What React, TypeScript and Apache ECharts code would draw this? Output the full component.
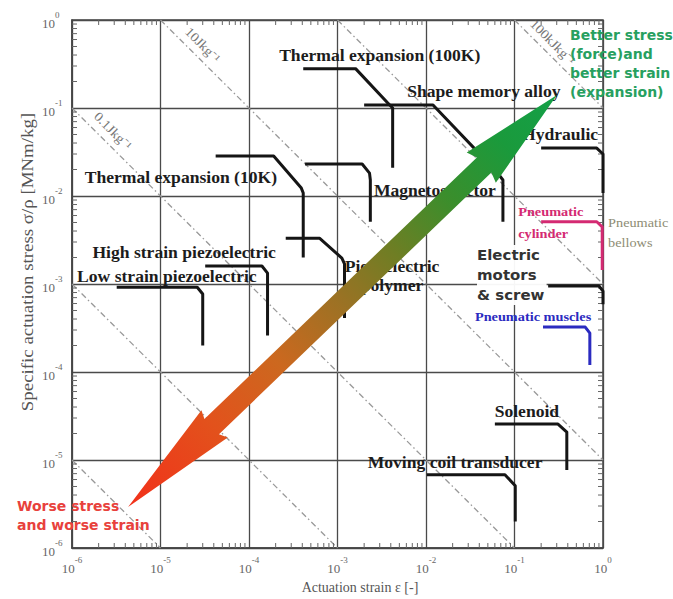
import React, { useEffect, useRef } from "react";
import * as echarts from "echarts";

// ---------- axes ----------
const xMin = 1e-6;
const xMax = 1;
const yMin = 1e-6;
const yMax = 1;
const xTitle = "Actuation strain ε [-]";
const yTitle = "Specific actuation stress σ/ρ [MNm/kg]";

// ---------- actuator envelopes: [strain, specific stress (MN m/kg)] ----------
const thermal100K = [[4.1e-4, 0.28], [1.6e-3, 0.28], [3.7e-3, 0.114], [4.2e-3, 0.1], [4.2e-3, 0.021]];
const shapeMemoryAlloy = [[2.0e-3, 0.108], [1.2e-2, 0.108], [6.3e-2, 0.0188], [7.4e-2, 0.0152], [7.4e-2, 5.1e-3]];
const thermal10K = [[4.2e-5, 0.0285], [1.9e-4, 0.0285], [3.9e-4, 0.0123], [4.1e-4, 0.0108], [4.1e-4, 2.0e-3]];
const magnetostrictor = [[4.3e-4, 0.0231], [1.9e-3, 0.0231], [2.3e-3, 0.0182], [2.35e-3, 0.0152], [2.35e-3, 5.1e-3]];
const piezoPolymer = [[2.6e-4, 3.3e-3], [6.3e-4, 3.3e-3], [1.12e-3, 1.97e-3], [1.2e-3, 1.69e-3], [1.2e-3, 4.1e-4]];
const highStrainPiezo = [[3.2e-5, 1.6e-3], [1.4e-4, 1.6e-3], [1.62e-4, 1.33e-3], [1.62e-4, 2.6e-4]];
const lowStrainPiezo = [[3.2e-6, 9.2e-4], [2.6e-5, 9.2e-4], [3.0e-5, 7.7e-4], [3.0e-5, 2.0e-4]];
const hydraulic = [[0.2, 0.035], [0.85, 0.035], [1, 0.03], [1, 0.0108]];
const pneumaticCylinder = [[0.2, 5.1e-3], [0.85, 5.1e-3], [0.98, 4.45e-3], [0.98, 1.44e-3]];
const pneumaticBellows = [[1.1, 1.87e-3], [2.4, 1.87e-3], [2.75, 1.6e-3], [2.75, 4.4e-4]];
const electricMotors = [[0.24, 9.5e-4], [0.9, 9.5e-4], [1, 8.3e-4], [1, 5.9e-4]];
const pneumaticMuscles = [[0.21, 3.24e-4], [0.63, 3.24e-4], [0.71, 2.77e-4], [0.71, 1.2e-4]];
const solenoid = [[0.06, 2.56e-5], [0.31, 2.56e-5], [0.39, 2.08e-5], [0.39, 7.7e-6]];
const movingCoil = [[0.0102, 6.8e-6], [0.078, 6.8e-6], [0.102, 5.1e-6], [0.102, 2.0e-6]];

// ---------- constant specific-work lines (end points) ----------
const workLines = [
  [[1e-1, 1], [1, 1e-1]],
  [[1e-3, 1], [1, 1e-3]],
  [[1e-5, 1], [1, 1e-5]],
  [[1e-6, 1e-1], [1e-1, 1e-6]],
  [[1e-6, 1e-3], [1e-3, 1e-6]],
  [[1e-6, 1e-5], [1e-5, 1e-6]],
];
const workLabelTexts = ["100kJkg⁻¹", "10Jkg⁻¹", "0.1Jkg⁻¹"];
const workLabelAt = [[0.27, 0.56], [3.0e-5, 0.52], [2.9e-6, 0.0548]];

// ---------- labels ----------
const mainLabelTexts = [
  "Thermal expansion (100K)",
  "Shape memory alloy",
  "Thermal expansion (10K)",
  "Magnetostrictor",
  "Hydraulic",
  "High strain piezoelectric",
  "Low strain piezoelectric",
  "Solenoid",
  "Moving coil transducer",
  "Piezoelectric\npolymer",
];
const mainLabelAt = [
  [3.0e-3, 0.39],
  [0.045, 0.152],
  [1.7e-5, 0.016],
  [0.0126, 0.0114],
  [0.327, 0.0493],
  [1.85e-5, 2.25e-3],
  [1.18e-5, 1.2e-3],
  [0.138, 3.5e-5],
  [0.0213, 9.2e-6],
  [4.13e-3, 1.22e-3],
];
const musclesLabel = "Pneumatic muscles";
const musclesLabelAt = [0.162, 4.2e-4];
const electricLabel = "Electric\nmotors\n& screw";
const electricLabelAt = [0.0377, 2.77e-3];
const cylinderLabel = "Pneumatic\ncylinder";
const cylinderLabelAt = [0.11, 8.77e-3];
const bellowsLabel = "Pneumatic\nbellows";
const bellowsLabelAt = [1.14, 6.41e-3];
const betterLabel = "Better stress\n(force)and\nbetter strain\n(expansion)";
const betterLabelAt = [0.424, 0.855];
const worseLabel = "Worse stress\nand worse strain";
const worseLabelAt = [2.39e-7, 3.85e-6];

// ---------- big arrow end points ----------
const arrowTail = [4.3e-6, 2.92e-6];
const arrowHead = [0.302, 0.1406];

const SERIF = '"Liberation Serif", "Times New Roman", serif';
const SANS = '"DejaVu Sans", Verdana, sans-serif';

export default function App() {
  const ref = useRef<HTMLDivElement>(null);

  useEffect(() => {
    if (!ref.current) return;
    const chart = echarts.init(ref.current, null, { renderer: "svg" });

    const minorVals: number[] = [];
    for (let e = -6; e < 0; e++) for (let m = 2; m <= 9; m++) minorVals.push(m * Math.pow(10, e));
    const minorData: number[][] = [];
    minorVals.forEach((v) => {
      minorData.push([v, yMin, 0], [v, yMax, 0], [xMin, v, 1], [xMax, v, 1]);
    });

    const tickLabel = (v: number) => {
      const e = Math.round(Math.log10(v));
      return `{b|10}{s|${e}}`;
    };
    const rich = {
      b: { fontFamily: SERIF, fontSize: 13, color: "#666", lineHeight: 20, verticalAlign: "bottom" },
      s: { fontFamily: SERIF, fontSize: 9, color: "#666", lineHeight: 10, verticalAlign: "top" },
    };

    const envelopes = [
      { d: thermal100K, c: "#151515", w: 3 },
      { d: shapeMemoryAlloy, c: "#151515", w: 3 },
      { d: thermal10K, c: "#151515", w: 3 },
      { d: magnetostrictor, c: "#151515", w: 3 },
      { d: piezoPolymer, c: "#151515", w: 3 },
      { d: highStrainPiezo, c: "#151515", w: 3 },
      { d: lowStrainPiezo, c: "#151515", w: 3 },
      { d: hydraulic, c: "#151515", w: 3 },
      { d: pneumaticCylinder, c: "#d42a72", w: 3 },
      { d: pneumaticBellows, c: "#8f8f88", w: 2 },
      { d: electricMotors, c: "#151515", w: 3 },
      { d: pneumaticMuscles, c: "#2b2bc0", w: 3 },
      { d: solenoid, c: "#151515", w: 3 },
      { d: movingCoil, c: "#151515", w: 3 },
    ];

    const series: any[] = [];
    workLines.forEach((pts) => {
      series.push({
        type: "line",
        data: pts,
        symbol: "none",
        silent: true,
        z: 3,
        lineStyle: { color: "#999", width: 1.3, type: [6, 3, 1.5, 3] },
      });
    });
    envelopes.forEach((e) => {
      series.push({
        type: "line",
        data: e.d,
        symbol: "none",
        silent: true,
        clip: false,
        z: 5,
        lineStyle: { color: e.c, width: e.w, join: "round", cap: "butt" },
      });
    });
    series.push({
      type: "custom",
      silent: true,
      z: 4,
      data: minorData,
      encode: { x: 0, y: 1 },
      renderItem: (params: any, api: any) => {
        const x = api.value(0);
        const y = api.value(1);
        const kind = api.value(2);
        const p = api.coord([x, y]);
        const len = 5;
        let shape;
        if (kind === 0) {
          const dir = y <= yMin * 1.001 ? -1 : 1;
          shape = { x1: p[0], y1: p[1], x2: p[0], y2: p[1] + dir * len };
        } else {
          const dir = x <= xMin * 1.001 ? 1 : -1;
          shape = { x1: p[0], y1: p[1], x2: p[0] + dir * len, y2: p[1] };
        }
        return { type: "line", shape, style: { stroke: "#666", lineWidth: 1 } };
      },
    });

    chart.setOption({
      animation: false,
      backgroundColor: "#ffffff",
      grid: {
        left: 72,
        right: 70,
        top: 20,
        bottom: 51,
        show: true,
        borderColor: "#444",
        borderWidth: 1.5,
        backgroundColor: "transparent",
      },
      xAxis: {
        type: "log",
        logBase: 10,
        min: xMin,
        max: xMax,
        splitNumber: 6,
        axisLine: { show: true, lineStyle: { color: "#444", width: 1.5 } },
        axisTick: { show: false },
        splitLine: { show: true, lineStyle: { color: "#4a4a4a", width: 1.3 } },
        axisLabel: { formatter: tickLabel, rich, margin: 7, color: "#666" },
      },
      yAxis: {
        type: "log",
        logBase: 10,
        min: yMin,
        max: yMax,
        splitNumber: 6,
        axisLine: { show: true, lineStyle: { color: "#444", width: 1.5 } },
        axisTick: { show: false },
        splitLine: { show: true, lineStyle: { color: "#4a4a4a", width: 1.3 } },
        axisLabel: { formatter: tickLabel, rich, margin: 30, align: "left", color: "#666" },
      },
      series,
    });

    const toPx = (p: number[]) => chart.convertToPixel({ gridIndex: 0 }, p) as number[];

    const text = (
      t: string,
      at: number[],
      o: {
        font: string;
        fill: string;
        align?: string;
        vAlign?: string;
        scaleX?: number;
        rotation?: number;
        lineHeight?: number;
        bg?: string;
        padding?: number[];
        z?: number;
      }
    ) => {
      const p = toPx(at);
      return {
        type: "text",
        x: p[0],
        y: p[1],
        scaleX: o.scaleX ?? 1,
        rotation: o.rotation ?? 0,
        z: o.z ?? 50,
        silent: true,
        style: {
          text: t,
          font: o.font,
          fill: o.fill,
          align: o.align ?? "center",
          textAlign: o.align ?? "center",
          verticalAlign: o.vAlign ?? "middle",
          textVerticalAlign: o.vAlign ?? "middle",
          lineHeight: o.lineHeight,
          backgroundColor: o.bg,
          padding: o.padding,
        },
      };
    };

    const els: any[] = [];

    const plotBL = toPx([xMin, yMin]);
    els.push({
      type: "text",
      x: 360,
      y: plotBL[1] + 39,
      silent: true,
      style: {
        text: xTitle,
        font: `14px ${SERIF}`,
        fill: "#555",
        align: "center",
        textAlign: "center",
        verticalAlign: "middle",
        textVerticalAlign: "middle",
      },
    });
    els.push({
      type: "text",
      x: 28,
      y: 262,
      rotation: Math.PI / 2,
      scaleX: 1.18,
      silent: true,
      style: {
        text: yTitle,
        font: `16px ${SERIF}`,
        fill: "#555",
        align: "center",
        textAlign: "center",
        verticalAlign: "middle",
        textVerticalAlign: "middle",
      },
    });

    workLabelTexts.forEach((t, i) => {
      els.push(
        text(t, workLabelAt[i], { font: `13px ${SERIF}`, fill: "#777", rotation: -Math.PI / 4, scaleX: 1.1, z: 40 })
      );
    });

    mainLabelTexts.forEach((t, i) => {
      els.push(
        text(t, mainLabelAt[i], {
          font: `bold 16px ${SERIF}`,
          fill: "#1c1c1c",
          scaleX: 1.1,
          lineHeight: 19,
        })
      );
    });
    els.push(text(musclesLabel, musclesLabelAt, { font: `bold 13px ${SERIF}`, fill: "#2b2bc0", scaleX: 1.1 }));
    els.push(
      text(electricLabel, electricLabelAt, {
        font: `bold 14px ${SANS}`,
        fill: "#333",
        align: "left",
        vAlign: "top",
        lineHeight: 20,
        scaleX: 1.07,
        bg: "rgba(255,255,255,0.95)",
        padding: [0, 2, 0, 0],
      })
    );
    els.push(
      text(cylinderLabel, cylinderLabelAt, {
        font: `bold 13px ${SERIF}`,
        fill: "#d42a72",
        align: "left",
        vAlign: "top",
        lineHeight: 22,
        scaleX: 1.1,
      })
    );
    els.push(
      text(bellowsLabel, bellowsLabelAt, {
        font: `13px ${SERIF}`,
        fill: "#8e8c74",
        align: "left",
        vAlign: "top",
        lineHeight: 20,
        scaleX: 1.1,
      })
    );
    els.push(
      text(betterLabel, betterLabelAt, {
        font: `bold 14px ${SANS}`,
        fill: "#27a060",
        align: "left",
        vAlign: "top",
        lineHeight: 19,
        z: 60,
      })
    );
    els.push(
      text(worseLabel, worseLabelAt, {
        font: `bold 14px ${SANS}`,
        fill: "#e8413c",
        align: "left",
        vAlign: "top",
        lineHeight: 19,
        z: 60,
      })
    );

    // big double-headed gradient arrow
    const [tx, ty] = toPx(arrowTail);
    const [hx, hy] = toPx(arrowHead);
    const dx = hx - tx;
    const dy = hy - ty;
    const L = Math.hypot(dx, dy);
    const ux = dx / L;
    const uy = dy / L;
    const nx = -uy;
    const ny = ux;
    const P = (s: number, w: number) => [tx + ux * s + nx * w, ty + uy * s + ny * w];
    const lowLen = 120;
    const lowHW = 19;
    const upLen = 105;
    const upHW = 21;
    const shaftHW = 10.5;
    const pts = [
      P(0, 0),
      P(lowLen, lowHW),
      P(lowLen - 4, shaftHW),
      P(L - upLen + 4, shaftHW),
      P(L - upLen, upHW),
      P(L, 0),
      P(L - upLen, -upHW),
      P(L - upLen + 4, -shaftHW),
      P(lowLen - 4, -shaftHW),
      P(lowLen, -lowHW),
    ];
    els.push({
      type: "polygon",
      z: 100,
      silent: true,
      shape: { points: pts },
      style: {
        fill: new echarts.graphic.LinearGradient(
          tx,
          ty,
          hx,
          hy,
          [
            { offset: 0, color: "#f2301a" },
            { offset: 0.2, color: "#e2521c" },
            { offset: 0.35, color: "#cc681f" },
            { offset: 0.5, color: "#9a7224" },
            { offset: 0.62, color: "#6e7e24" },
            { offset: 0.75, color: "#3a8e2c" },
            { offset: 0.88, color: "#1a9a3c" },
            { offset: 1, color: "#14a048" },
          ],
          true
        ),
      },
    });

    chart.setOption({ graphic: { elements: els } });

    return () => chart.dispose();
  }, []);

  return (
    <div
      ref={ref}
      style={{ position: "absolute", left: 0, top: 0, width: 673, height: 599, background: "#fff" }}
    />
  );
}
